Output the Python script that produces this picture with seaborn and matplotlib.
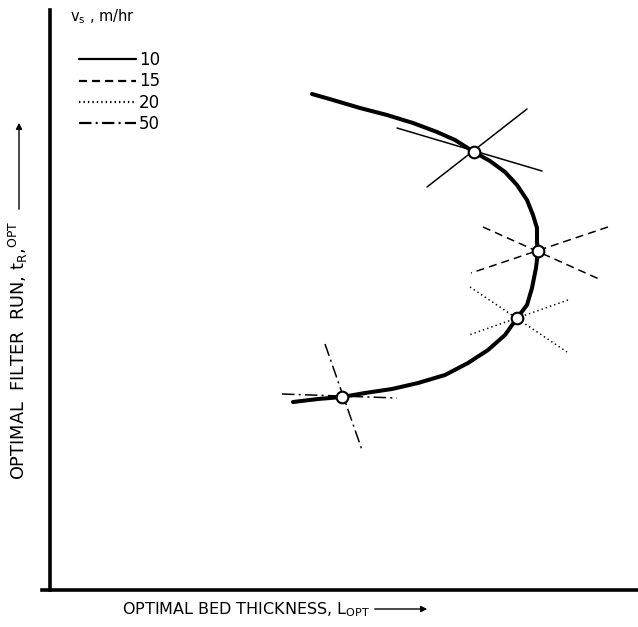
import matplotlib
matplotlib.use("Agg")
import matplotlib.pyplot as plt
import matplotlib.patches as mpatches
import seaborn as sns
import pandas as pd
from matplotlib.lines import Line2D

# Optimal-run curve (schematic units)
curve_x = [262, 283, 310, 337, 363, 387, 405, 424, 440, 455, 467, 477, 483,
           487, 487, 488, 486, 482, 477, 467, 455, 438, 418, 395, 368, 342,
           315, 292, 268, 243]
curve_y = [496, 490, 482, 475, 467, 458, 450, 438, 429, 418, 405, 390, 375,
           362, 348, 339, 322, 302, 285, 272, 255, 240, 227, 215, 207, 201,
           197, 193, 191, 188]

# Optimum points for each filtration rate
speeds = ["10", "15", "20", "50"]
opt_x = [424, 488, 467, 292]
opt_y = [438, 339, 272, 193]

# Crossing lines through each optimum: ((x0, x1), (y0, y1)) per line
cross_10 = [((347, 492), (462, 419)), ((477, 377), (481, 403))]
cross_15 = [((433, 549), (363, 311)), ((558, 421), (363, 317))]
cross_20 = [((420, 517), (303, 238)), ((518, 419), (290, 255))]
cross_50 = [((232, 347), (196, 192)), ((275, 312), (246, 140))]
crosses = [cross_10, cross_15, cross_20, cross_50]

styles = ["-", (0, (5.8, 3.6)), (0, (1.0, 2.2)), (0, (9, 3, 1.5, 3))]

sns.set_theme(style="white")
plt.rcParams["font.family"] = ["DejaVu Sans"]
plt.rcParams["text.color"] = "black"
plt.rcParams["lines.scale_dashes"] = False
plt.rcParams["mathtext.default"] = "regular"

W, H = 638, 627
fig = plt.figure(figsize=(W / 100, H / 100), dpi=100)
ax = fig.add_axes([42 / W, 37 / H, (W - 42) / W, 580 / H])

# crossing lines
for sp, segs, ls in zip(speeds, crosses, styles):
    for xs, ys in segs:
        seg = pd.DataFrame({"x": list(xs), "y": list(ys)})
        sns.lineplot(data=seg, x="x", y="y", ax=ax, sort=False, color="black",
                     linewidth=1.1, linestyle=ls, estimator=None)

# main curve
curve = pd.DataFrame({"x": curve_x, "y": curve_y})
sns.lineplot(data=curve, x="x", y="y", ax=ax, sort=False, color="black",
             linewidth=2.9, estimator=None, solid_capstyle="round",
             solid_joinstyle="round")

# optimum markers
pts = pd.DataFrame({"x": opt_x, "y": opt_y, "speed": speeds})
sns.scatterplot(data=pts, x="x", y="y", ax=ax, s=70, color="white",
                edgecolor="black", linewidth=1.5, zorder=5, legend=False)

ax.set_xlim(-8, 588)
ax.set_ylim(0, 580)
ax.set_xticks([])
ax.set_yticks([])
ax.set_xlabel("")
ax.set_ylabel("")
for s in ["top", "right"]:
    ax.spines[s].set_visible(False)
ax.spines["left"].set_position(("data", 0))
for s in ["left", "bottom"]:
    ax.spines[s].set_linewidth(2.6)
    ax.spines[s].set_color("black")

# legend
handles = [Line2D([0], [0], color="black", lw=1.6, linestyle=ls) for ls in styles]
fig.text(70 / W, 1 - 17 / H, "v$_{s}$ , m/hr", fontsize=10.5, ha="left",
         va="center", color="black")
leg = ax.legend(handles, speeds, loc="upper left",
                bbox_to_anchor=(79 / W, 1 - 51 / H),
                bbox_transform=fig.transFigure, frameon=False, fontsize=12,
                handlelength=3.4, handletextpad=0.2, labelspacing=0.2,
                borderpad=0, borderaxespad=0)
for t in leg.get_texts():
    t.set_color("black")

# axis titles with arrows
fig.text(246 / W, 1 - 610 / H, "OPTIMAL BED THICKNESS, L$_{OPT}$",
         fontsize=11.5, ha="center", va="center", color="black")
fig.text(18 / W, 1 - 350 / H, "OPTIMAL  FILTER  RUN, t$_{R}$,$^{OPT}$",
         fontsize=12.8, ha="center", va="center", rotation=90, color="black")
arrow = dict(arrowstyle="-|>", color="black", lw=1.0, mutation_scale=9)
fig.add_artist(mpatches.FancyArrowPatch(
    (372 / W, 1 - 609 / H), (430 / W, 1 - 609 / H),
    transform=fig.transFigure, **arrow))
fig.add_artist(mpatches.FancyArrowPatch(
    (19 / W, 1 - 212 / H), (19 / W, 1 - 120 / H),
    transform=fig.transFigure, **arrow))

fig.savefig("out.png", dpi=100)
